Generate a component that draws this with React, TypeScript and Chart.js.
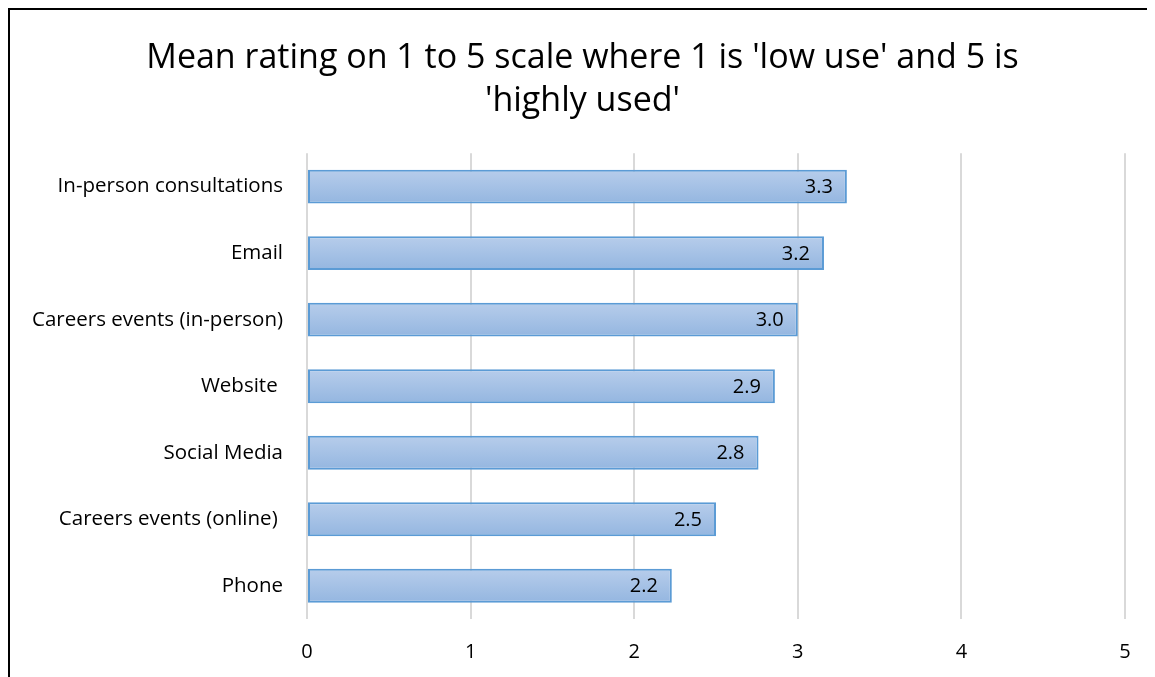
import React, { useEffect, useRef } from "react";
import { Chart, registerables } from "chart.js";

Chart.register(...registerables);

const categories = [
  "In-person consultations",
  "Email",
  "Careers events (in-person)",
  "Website ",
  "Social Media",
  "Careers events (online) ",
  "Phone",
];
const meanRatings = [3.3, 3.16, 3.0, 2.86, 2.76, 2.5, 2.23];
const xTicks = [0, 1, 2, 3, 4, 5];
const titleLines = ["Mean rating on 1 to 5 scale where 1 is 'low use' and 5 is", "'highly used'"];

const FONT = "'Open Sans', 'Noto Sans', sans-serif";
const BAR_PCT = 0.51;

// Writes each bar's value, right-aligned just inside its end
const valueLabels = {
  id: "valueLabels",
  afterDatasetsDraw(chart: any) {
    const { ctx } = chart;
    const meta = chart.getDatasetMeta(0);
    ctx.save();
    ctx.font = `20px ${FONT}`;
    ctx.fillStyle = "#000000";
    ctx.textAlign = "right";
    ctx.textBaseline = "middle";
    meta.data.forEach((bar: any, i: number) => {
      const v = chart.data.datasets[0].data[i] as number;
      ctx.fillText(v.toFixed(1), bar.x - 14, bar.y + 1);
    });
    ctx.restore();
  },
};

export default function App() {
  const ref = useRef<HTMLCanvasElement>(null);

  useEffect(() => {
    if (!ref.current) return;
    const chart = new Chart(ref.current, {
      type: "bar",
      data: {
        labels: categories,
        datasets: [
          {
            data: meanRatings,
            backgroundColor: (c: any) => {
              const ch = c.chart;
              const y = ch.scales?.y;
              if (!ch.chartArea || !y || c.dataIndex === undefined) return "#a3c0e6";
              const center = y.getPixelForValue(c.dataIndex);
              const band = (ch.chartArea.bottom - ch.chartArea.top) / categories.length;
              const h = band * BAR_PCT;
              const g = ch.ctx.createLinearGradient(0, center - h / 2, 0, center + h / 2);
              g.addColorStop(0, "#b7cdeb");
              g.addColorStop(1, "#94b6e0");
              return g;
            },
            borderColor: "#5b9bd5",
            borderWidth: 2,
            borderSkipped: false,
            categoryPercentage: 1,
            barPercentage: BAR_PCT,
          },
        ],
      },
      options: {
        indexAxis: "y",
        responsive: false,
        animation: false,
        layout: { padding: 0 },
        plugins: {
          legend: { display: false },
          tooltip: { enabled: false },
          title: {
            display: true,
            text: titleLines,
            color: "#000000",
            font: { family: FONT, size: 34, weight: "normal", lineHeight: 1.27 },
            padding: { top: 27, bottom: 30 },
          },
        },
        scales: {
          x: {
            min: 0,
            max: 5,
            afterBuildTicks: (s: any) => {
              s.ticks = xTicks.map((v) => ({ value: v }));
            },
            afterFit: (s: any) => {
              s.height = 58;
            },
            grid: { color: "#d9d9d9", lineWidth: 2, drawTicks: false },
            border: { display: false },
            ticks: {
              color: "#000000",
              font: { family: FONT, size: 20 },
              padding: 21,
            },
          },
          y: {
            afterFit: (s: any) => {
              s.width = 297;
            },
            grid: { display: false, drawTicks: false },
            border: { display: false },
            ticks: {
              color: "#000000",
              font: { family: FONT, size: 20.5 },
              padding: 24,
            },
          },
          // empty right-hand margin beside the plot
          yRight: {
            type: "category",
            position: "right",
            labels: categories,
            afterFit: (s: any) => {
              s.width = 30;
            },
            grid: { display: false, drawTicks: false },
            border: { display: false },
            ticks: { display: false },
          },
        },
      },
      plugins: [valueLabels],
    });
    return () => chart.destroy();
  }, []);

  return (
    <div
      style={{
        width: 1145,
        height: 667,
        borderLeft: "2px solid #000000",
        borderTop: "2px solid #000000",
        background: "#ffffff",
      }}
    >
      <canvas ref={ref} width={1145} height={667} style={{ display: "block" }} />
    </div>
  );
}
